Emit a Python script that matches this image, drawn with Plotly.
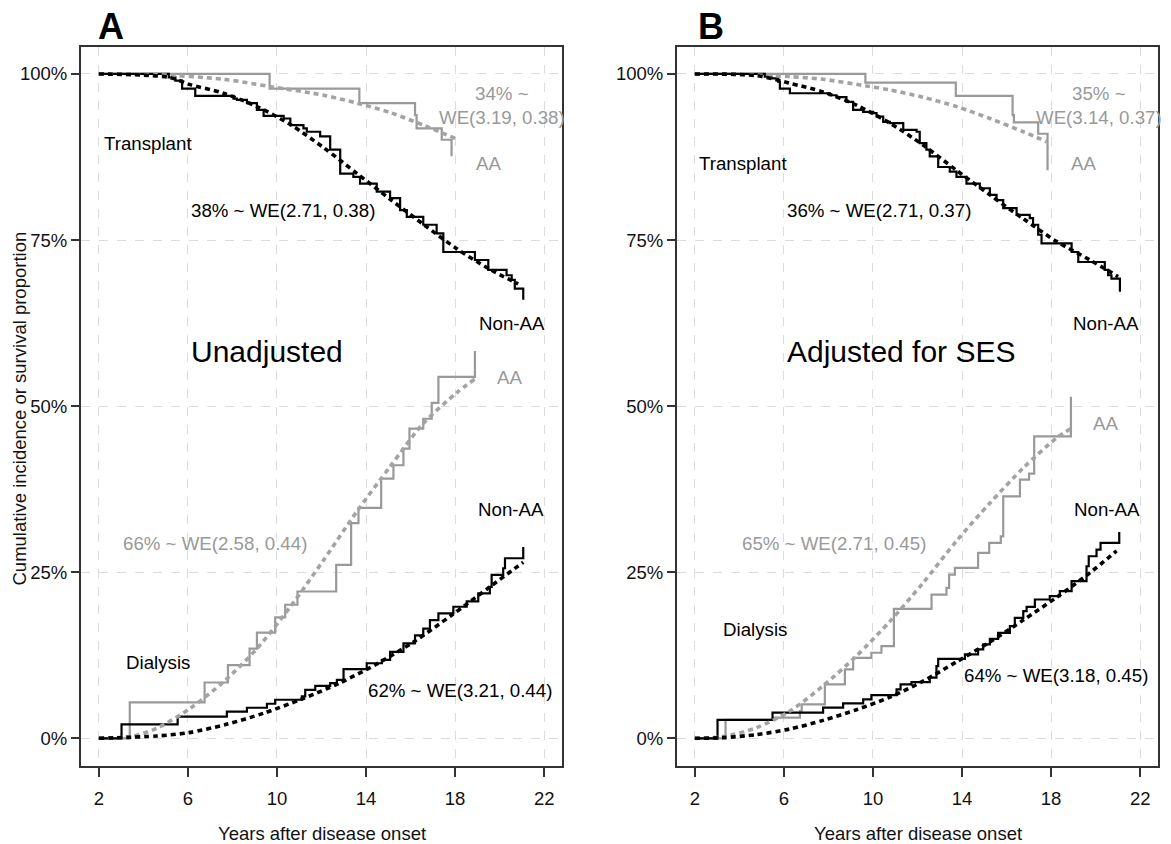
import plotly.graph_objects as go

# ---------------- data (years after onset, percent) ----------------
# Panel A (Unadjusted) - Transplant
A_tx_nonaa_t = [2.0, 5.14, 5.44, 5.74, 6.33, 8.05, 8.20, 8.65, 9.10, 9.40, 10.30, 10.60, 11.19, 11.34,
                11.94, 12.39, 12.84, 13.43, 13.73, 14.48, 15.08, 15.53, 15.83, 16.57, 17.17, 17.47,
                18.89, 19.49, 20.31, 20.54, 20.68, 21.06]
A_tx_nonaa_v = [100, 99.5, 99.0, 97.8, 96.7, 96.3, 96.1, 95.6, 94.6, 93.7, 93.3, 92.3, 91.8, 91.3,
                90.6, 88.6, 85.0, 84.5, 83.5, 82.3, 81.3, 79.5, 78.5, 77.3, 76.0, 73.2,
                72.0, 70.5, 69.7, 69.0, 67.7, 66.0]
A_tx_aa_t = [2.0, 9.67, 13.70, 16.20, 16.27, 17.40, 17.84]
A_tx_aa_v = [100, 97.8, 95.6, 93.8, 91.8, 90.1, 87.6]
A_tx_nonaa_fit_t = [2.0, 5.14, 6.1, 7.6, 9.1, 10.6, 12.1, 13.6, 15.1, 16.6, 18.07, 19.56, 20.83]
A_tx_nonaa_fit_v = [100, 99.5, 98.4, 97.1, 95.1, 92.4, 88.9, 85.0, 81.1, 77.3, 73.7, 70.6, 68.4]
A_tx_aa_fit_t = [2.0, 4.6, 7.6, 9.7, 12.1, 13.6, 15.08, 16.57, 18.0]
A_tx_aa_fit_v = [100, 99.9, 99.2, 98.1, 96.8, 95.6, 94.2, 92.3, 90.3]

# Panel A (Unadjusted) - Dialysis
A_dx_nonaa_t = [2.0, 3.02, 5.54, 7.75, 8.65, 9.55, 9.92, 11.12, 11.27, 11.72, 12.39, 12.69, 12.99,
                14.03, 14.71, 15.08, 15.68, 16.20, 16.57, 16.87, 17.25, 17.92, 18.52, 19.04, 19.56,
                19.64, 20.16, 20.24, 21.06]
A_dx_nonaa_v = [0, 2.1, 3.26, 4.0, 4.6, 5.2, 5.8, 6.3, 7.3, 7.9, 8.3, 8.8, 10.4,
                11.3, 11.8, 13.0, 14.3, 15.5, 16.5, 17.8, 18.8, 19.8, 20.6, 21.8, 22.8,
                24.6, 25.6, 27.1, 28.8]
A_dx_aa_t = [2.0, 3.39, 6.75, 7.80, 8.77, 9.10, 9.92, 10.37, 10.92, 12.66, 13.33, 13.66, 14.68,
             15.23, 15.68, 15.95, 16.57, 16.95, 17.25, 18.89]
A_dx_aa_v = [0, 5.4, 8.4, 11.0, 13.5, 15.9, 18.2, 20.1, 22.1, 26.1, 32.4, 34.7, 39.1,
             41.1, 43.6, 46.6, 48.1, 50.5, 54.4, 58.3]
A_dx_nonaa_fit_t = [2.0, 4.6, 6.04, 7.73, 9.42, 11.11, 12.8, 14.49, 16.18, 17.87, 19.56, 21.06]
A_dx_nonaa_fit_v = [0, 0.35, 0.85, 2.1, 3.8, 5.9, 8.3, 11.2, 14.6, 18.6, 22.8, 26.5]
A_dx_aa_fit_t = [2.0, 3.42, 4.6, 6.1, 7.6, 9.1, 10.6, 12.09, 13.58, 15.08, 16.57, 18.07, 18.89]
A_dx_aa_fit_v = [0, 0.25, 1.5, 4.5, 8.5, 13.5, 19.8, 26.8, 34.1, 40.9, 47.4, 52.0, 54.1]

# Panel B (Adjusted for SES) - Transplant
B_tx_nonaa_t = [2.0, 5.14, 5.44, 5.74, 5.82, 6.27, 8.06, 8.36, 8.81, 9.11, 9.56, 10.01, 10.16, 10.46,
                10.76, 11.36, 11.96, 12.10, 12.40, 12.55, 12.93, 13.45, 13.75, 14.20, 14.80, 15.25,
                15.55, 15.85, 16.45, 17.04, 17.19, 17.42, 17.57, 18.92, 19.22, 20.41, 20.56, 20.71,
                21.09]
B_tx_nonaa_v = [100, 99.6, 99.35, 98.85, 97.8, 97.1, 96.8, 96.5, 95.8, 94.6, 94.3, 94.1, 93.6, 92.8,
                92.6, 91.6, 91.3, 89.6, 88.6, 87.6, 86.0, 85.3, 84.5, 83.5, 82.8, 81.8,
                81.0, 79.8, 78.8, 78.3, 77.3, 75.8, 74.5, 73.2, 71.7, 70.5, 69.7, 69.2,
                67.2]
B_tx_aa_t = [2.0, 9.66, 13.72, 16.27, 16.33, 17.42, 17.84]
B_tx_aa_v = [100, 98.7, 96.7, 93.8, 92.7, 91.0, 85.5]
B_tx_nonaa_fit_t = [2.0, 4.77, 6.27, 7.76, 9.26, 10.76, 12.25, 13.75, 15.25, 16.75, 18.24, 19.74, 21.01]
B_tx_nonaa_fit_v = [100, 99.75, 98.6, 97.3, 95.3, 92.6, 89.3, 85.5, 81.8, 78.2, 74.8, 72.0, 69.5]
B_tx_aa_fit_t = [2.0, 4.77, 6.27, 7.76, 9.7, 10.76, 12.25, 13.75, 15.25, 16.75, 17.8]
B_tx_aa_fit_v = [100, 99.85, 99.6, 99.2, 98.2, 97.6, 96.5, 95.1, 93.3, 91.3, 89.8]

# Panel B (Adjusted for SES) - Dialysis
B_dx_nonaa_t = [2.0, 3.02, 5.49, 7.76, 8.66, 9.56, 9.93, 11.06, 11.24, 11.73, 12.55, 12.85, 12.93,
                14.13, 14.72, 14.95, 15.25, 15.62, 16.15, 16.37, 16.75, 16.90, 17.27, 17.94, 18.39,
                18.92, 19.59, 19.69, 20.04, 20.22, 21.06]
B_dx_nonaa_v = [0, 2.76, 3.86, 4.61, 5.26, 5.86, 6.51, 7.36, 8.12, 8.47, 9.12, 10.87, 11.97,
                12.63, 13.38, 14.13, 14.98, 15.88, 16.88, 18.14, 19.14, 19.79, 20.89, 21.39, 22.14,
                23.65, 25.90, 27.40, 28.41, 29.41, 31.06]
B_dx_aa_t = [2.0, 3.38, 5.52, 6.72, 6.80, 7.84, 8.74, 9.11, 9.93, 10.38, 10.94, 12.63, 13.30, 13.42,
             13.68, 14.72, 15.22, 15.74, 15.85, 16.60, 17.01, 17.24, 18.89]
B_dx_aa_v = [0, 2.76, 3.1, 4.1, 5.1, 8.12, 10.37, 12.12, 12.88, 13.88, 19.49, 21.64, 22.65, 24.65,
             25.65, 27.91, 29.41, 30.41, 36.42, 38.93, 39.83, 45.44, 51.4]
B_dx_nonaa_fit_t = [2.0, 3.27, 4.77, 6.27, 7.76, 9.26, 10.76, 12.25, 13.75, 15.25, 16.75, 18.24, 19.74, 20.94]
B_dx_nonaa_fit_v = [0, 0.1, 0.55, 1.4, 2.7, 4.3, 6.2, 8.6, 11.5, 14.5, 17.8, 21.2, 24.9, 28.2]
B_dx_aa_fit_t = [2.0, 3.27, 4.77, 6.27, 7.76, 9.26, 10.76, 12.25, 13.75, 15.25, 16.75, 18.24, 18.92]
B_dx_aa_fit_v = [0, 0.25, 1.6, 4.1, 7.9, 12.4, 17.6, 23.4, 29.7, 35.4, 40.7, 45.2, 46.7]

x_ticks = [2, 6, 10, 14, 18, 22]
y_ticks = [0, 25, 50, 75, 100]
y_ticklabels = ["0%", "25%", "50%", "75%", "100%"]

# ---------------- style ----------------
FONT = "Liberation Sans, Arial, Helvetica, sans-serif"
BLACK = "#000000"
GRAY = "#999999"
GRAY_FIT = "#a3a3a3"
STEP_W = 2.2
FIT_W = 3.6
FIT_DASH = "5px,4px"
TXT = 18.7

fig = go.Figure()


def add_panel(xa, ya, steps, fits):
    for t, v, col in steps:
        fig.add_trace(go.Scatter(x=t, y=v, mode="lines", line=dict(color=col, width=STEP_W, shape="hv"),
                                 xaxis=xa, yaxis=ya, showlegend=False, hoverinfo="skip"))
    for t, v, col in fits:
        fig.add_trace(go.Scatter(x=t, y=v, mode="lines",
                                 line=dict(color=col, width=FIT_W, dash=FIT_DASH, shape="spline", smoothing=0.8),
                                 xaxis=xa, yaxis=ya, showlegend=False, hoverinfo="skip"))


add_panel("x", "y",
          [(A_tx_aa_t, A_tx_aa_v, GRAY), (A_tx_nonaa_t, A_tx_nonaa_v, BLACK),
           (A_dx_aa_t, A_dx_aa_v, GRAY), (A_dx_nonaa_t, A_dx_nonaa_v, BLACK)],
          [(A_tx_aa_fit_t, A_tx_aa_fit_v, GRAY_FIT), (A_tx_nonaa_fit_t, A_tx_nonaa_fit_v, BLACK),
           (A_dx_aa_fit_t, A_dx_aa_fit_v, GRAY_FIT), (A_dx_nonaa_fit_t, A_dx_nonaa_fit_v, BLACK)])
add_panel("x2", "y2",
          [(B_tx_aa_t, B_tx_aa_v, GRAY), (B_tx_nonaa_t, B_tx_nonaa_v, BLACK),
           (B_dx_aa_t, B_dx_aa_v, GRAY), (B_dx_nonaa_t, B_dx_nonaa_v, BLACK)],
          [(B_tx_aa_fit_t, B_tx_aa_fit_v, GRAY_FIT), (B_tx_nonaa_fit_t, B_tx_nonaa_fit_v, BLACK),
           (B_dx_aa_fit_t, B_dx_aa_fit_v, GRAY_FIT), (B_dx_nonaa_fit_t, B_dx_nonaa_fit_v, BLACK)])

W, H = 1171, 844
xdomA = [81 / W, 562 / W]
xdomB = [677 / W, 1158 / W]
ydom = [1 - 766 / H, 1 - 47 / H]

xcommon = dict(range=[1.2, 22.8], tickvals=x_ticks, ticks="outside", ticklen=9, tickwidth=1.5,
               tickcolor="#333333", showline=True, mirror=True, linecolor="#333333", linewidth=2,
               showgrid=True, gridcolor="#dcdcdc", griddash="dash", gridwidth=1, zeroline=False,
               tickfont=dict(family=FONT, size=18.5, color="#111111"), ticklabelstandoff=6, fixedrange=True)
ycommon = dict(range=[-4.17, 104.06], tickvals=y_ticks, ticktext=y_ticklabels, ticks="outside", ticklen=8,
               tickwidth=1.5, tickcolor="#333333", showline=True, mirror=True, linecolor="#333333",
               linewidth=2, showgrid=True, gridcolor="#dcdcdc", griddash="dash", gridwidth=1,
               zeroline=False, tickfont=dict(family=FONT, size=18.5, color="#111111"), fixedrange=True)

fig.update_layout(
    width=W, height=H, autosize=False,
    margin=dict(l=0, r=0, t=0, b=0),
    paper_bgcolor="white", plot_bgcolor="white",
    font=dict(family=FONT, size=18, color="#000000"),
    xaxis=dict(domain=xdomA, anchor="y", **xcommon),
    yaxis=dict(domain=ydom, anchor="x", **ycommon),
    xaxis2=dict(domain=xdomB, anchor="y2", **xcommon),
    yaxis2=dict(domain=ydom, anchor="x2", **ycommon),
)

ann = []


def txt(xr, yr, x, y, s, color=BLACK, size=TXT, xanchor="center"):
    ann.append(dict(xref=xr, yref=yr, x=x, y=y, text=s, showarrow=False, xanchor=xanchor, yanchor="middle",
                    align="center", font=dict(family=FONT, size=size, color=color)))


# Panel A labels
txt("x", "y", 2.13, 89.5, "Transplant", xanchor="left")
txt("x", "y", 10.27, 79.5, "38% ~ WE(2.71, 0.38)")
txt("x", "y", 20.1, 95.2, "34% ~<br>WE(3.19, 0.38)", color=GRAY)
txt("x", "y", 19.48, 86.45, "AA", color=GRAY)
txt("x", "y", 20.55, 62.5, "Non-AA")
txt("x", "y", 9.55, 58.3, "Unadjusted", size=30)
txt("x", "y", 20.42, 54.34, "AA", color=GRAY)
txt("x", "y", 20.53, 34.37, "Non-AA")
txt("x", "y", 7.22, 29.35, "66% ~ WE(2.58, 0.44)", color=GRAY)
txt("x", "y", 3.145, 11.38, "Dialysis", xanchor="left")
txt("x", "y", 18.22, 7.27, "62% ~ WE(3.21, 0.44)")

# Panel B labels
txt("x2", "y2", 2.11, 86.45, "Transplant", xanchor="left")
txt("x2", "y2", 10.26, 79.5, "36% ~ WE(2.71, 0.37)")
txt("x2", "y2", 20.15, 95.2, "35% ~<br>WE(3.14, 0.37)", color=GRAY)
txt("x2", "y2", 19.45, 86.45, "AA", color=GRAY)
txt("x2", "y2", 20.46, 62.5, "Non-AA")
txt("x2", "y2", 11.24, 58.3, "Adjusted for SES", size=30)
txt("x2", "y2", 20.42, 47.4, "AA", color=GRAY)
txt("x2", "y2", 20.51, 34.47, "Non-AA")
txt("x2", "y2", 8.25, 29.35, "65% ~ WE(2.71, 0.45)", color=GRAY)
txt("x2", "y2", 3.163, 16.4, "Dialysis", xanchor="left")
txt("x2", "y2", 18.23, 9.38, "64% ~ WE(3.18, 0.45)")

# panel letters
ann.append(dict(xref="paper", yref="paper", x=96 / W, y=1 - 26 / H, text="<b>A</b>", showarrow=False,
                xanchor="left", yanchor="middle", font=dict(family=FONT, size=36, color=BLACK)))
ann.append(dict(xref="paper", yref="paper", x=696 / W, y=1 - 26 / H, text="<b>B</b>", showarrow=False,
                xanchor="left", yanchor="middle", font=dict(family=FONT, size=36, color=BLACK)))

# axis titles
for cx in [(81 + 562) / 2 / W, (677 + 1158) / 2 / W]:
    ann.append(dict(xref="paper", yref="paper", x=cx, y=1 - 833 / H, text="Years after disease onset",
                    showarrow=False, xanchor="center", yanchor="middle",
                    font=dict(family=FONT, size=18.5, color="#111111")))
ann.append(dict(xref="paper", yref="paper", x=19.5 / W, y=1 - 409 / H,
                text="Cumulative incidence or survival proportion", textangle=-90, showarrow=False,
                xanchor="center", yanchor="middle", font=dict(family=FONT, size=18.5, color="#111111")))

fig.update_layout(annotations=ann)
fig.write_html("out.html", config={"displayModeBar": False},
               post_script="document.body.style.margin='0';document.body.style.overflow='hidden';")
